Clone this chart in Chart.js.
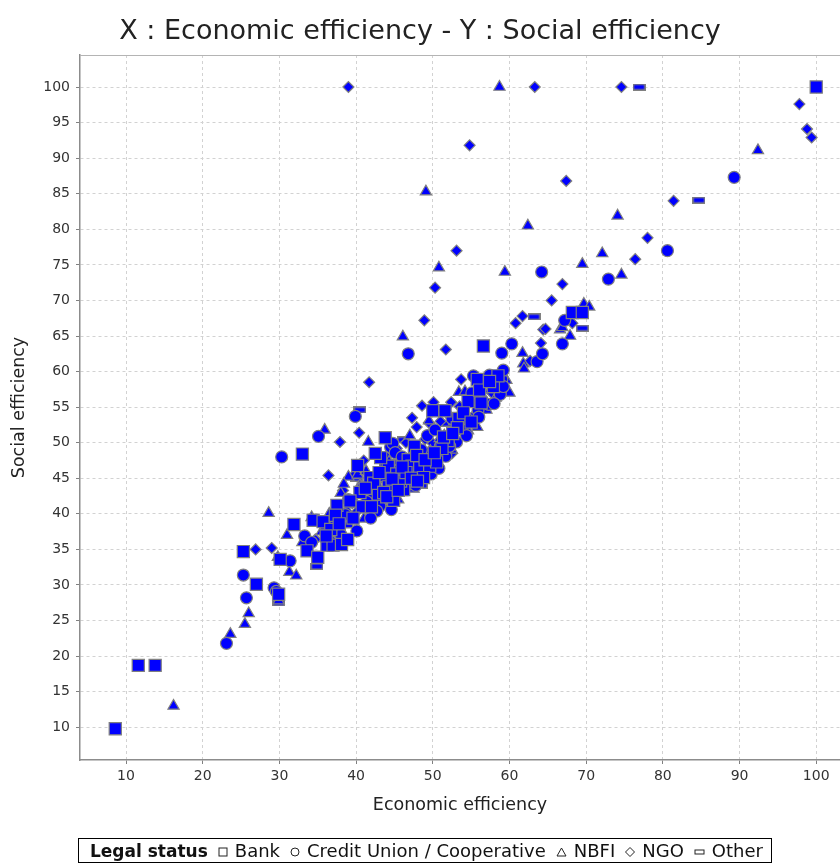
<!DOCTYPE html>
<html>
<head>
<meta charset="utf-8">
<script src="https://cdn.jsdelivr.net/npm/chart.js@4/dist/chart.umd.min.js"></script>
<style>
  html, body { margin: 0; padding: 0; background: #fff; }
  #wrap { position: relative; width: 840px; height: 864px; overflow: hidden; }
  #legend {
    position: absolute; left: 78px; top: 838px; height: 23px; line-height: 23px;
    padding: 0 8px 0 11px; border: 1px solid #000; white-space: nowrap;
    font-family: 'DejaVu Sans', sans-serif; font-size: 18px; color: #111;
  }
  #legend b { font-size: 17px; }
  #legend svg { vertical-align: 0px; margin: 0 7px 0 10px; }
</style>
</head>
<body>
<div id="wrap">
  <canvas id="scatter" width="840" height="864"></canvas>
  <div id="legend"><b>Legal status</b><svg width="10" height="10"><rect x="1" y="1" width="8" height="8" fill="none" stroke="#222"/></svg>Bank<svg width="10" height="10"><circle cx="5" cy="5" r="4" fill="none" stroke="#222"/></svg>Credit Union / Cooperative<svg width="11" height="10"><polygon points="5.5,1 10,9 1,9" fill="none" stroke="#222"/></svg>NBFI<svg width="10" height="10"><polygon points="5,0.5 9.5,5 5,9.5 0.5,5" fill="none" stroke="#222"/></svg>NGO<svg width="11" height="10"><rect x="1" y="3" width="9" height="4" fill="none" stroke="#222"/></svg>Other</div>
</div>
<script>
// x = economic efficiency, y = social efficiency
var bankPts = [
  [8.6, 9.8], [11.6, 18.7], [13.8, 18.7], [25.3, 34.7], [27.0, 30.1], [29.9, 28.7], [30.1, 33.6],
  [31.9, 38.5], [33.0, 48.4], [33.6, 34.8], [35.0, 33.9], [34.4, 39.1], [35.7, 38.9], [36.2, 35.6],
  [36.7, 37.8], [37.0, 35.6], [37.5, 41.2], [37.3, 39.8], [38.1, 35.7], [40.5, 43.0], [41.8, 45.1],
  [42.9, 42.8], [43.8, 50.7], [43.9, 45.4], [44.2, 43.8], [44.2, 46.7], [45.3, 45.6], [46.2, 43.4],
  [46.8, 47.6], [47.3, 46.7], [47.6, 49.5], [48.3, 46.5], [49.6, 46.7], [50.0, 54.5], [51.6, 54.5],
  [52.0, 50.3], [53.4, 53.4], [55.8, 58.9], [56.6, 63.6], [68.2, 68.3], [69.5, 68.3], [100, 100],
  [39.2, 41.8], [40.8, 41.0], [42.3, 44.3], [43.2, 47.9], [44.9, 41.9], [45.8, 44.6], [46.5, 45.8],
  [47.9, 48.2], [48.8, 45.1], [50.5, 47.3], [51.2, 49.2], [53.2, 52.1], [54.6, 55.8], [56.1, 57.4],
  [57.9, 57.9], [58.5, 59.4], [38.9, 36.4], [36.1, 36.9], [44.7, 44.9], [43.6, 43.0],
  [37.8, 38.6], [39.6, 39.4], [41.2, 43.6], [42.0, 41.0], [43.0, 45.8], [44.0, 42.4], [45.5, 43.3],
  [46.0, 46.6], [47.2, 45.0], [48.0, 44.6], [49.0, 47.6], [50.2, 48.6], [51.4, 50.8], [52.6, 51.3],
  [54.0, 54.2], [55.0, 52.9], [56.3, 55.6], [57.4, 58.6], [42.5, 48.5], [40.2, 46.8]
];
var creditUnionPts = [
  [23.1, 21.8], [25.3, 31.4], [25.7, 28.2], [29.3, 29.6], [29.6, 29.1], [30.3, 48.0], [31.4, 33.4],
  [33.3, 36.9], [35.1, 50.9], [39.9, 53.7], [40.1, 37.6], [41.4, 41.7], [43.1, 41.1], [38.6, 39.9],
  [44.5, 49.4], [44.8, 49.9], [46.8, 62.5], [49.3, 51.0], [49.3, 48.5], [50.3, 51.8], [50.5, 47.5],
  [52.5, 53.4], [53.8, 51.9], [55.1, 57.0], [55.3, 59.4], [57.4, 59.5], [58.8, 56.8], [59.0, 58.9],
  [59.2, 57.9], [59.0, 62.6], [59.2, 60.2], [60.3, 63.9], [63.6, 61.4], [64.3, 62.5], [66.9, 63.9],
  [67.2, 67.2], [64.2, 74.0], [72.9, 73.0], [80.6, 77.0], [89.3, 87.3],
  [40.9, 43.7], [42.7, 40.4], [46.9, 44.2], [47.6, 47.3], [49.8, 45.6], [51.7, 48.1], [53.1, 50.1],
  [55.9, 54.6], [57.3, 55.4], [45.1, 48.6], [37.4, 37.6], [34.2, 36.0], [42.5, 44.0], [45.5, 44.8],
  [48.5, 49.0], [46.0, 48.0], [51.0, 49.5], [39.0, 42.0],
  [36.8, 36.0], [38.0, 37.1], [41.9, 39.4], [44.6, 40.6], [47.8, 44.0], [50.8, 46.4], [52.2, 49.5],
  [54.4, 51.0], [56.0, 53.6], [58.0, 55.5]
];
var nbfiPts = [
  [16.2, 13.0], [23.6, 23.1], [25.5, 24.5], [26.0, 26.0], [28.6, 40.1], [29.8, 33.9], [29.9, 27.8],
  [31.0, 37.0], [31.3, 31.8], [32.2, 31.3], [34.2, 39.5], [35.9, 51.8], [38.0, 42.9], [39.6, 45.4],
  [39.0, 45.2], [40.2, 45.5], [41.0, 39.3], [41.6, 50.1], [46.1, 64.9], [48.6, 45.2], [49.1, 85.3],
  [49.5, 53.1], [50.8, 74.6], [53.4, 57.1], [54.2, 57.2], [54.6, 51.7], [54.9, 53.2], [55.5, 55.7],
  [56.2, 54.6], [56.8, 56.0], [58.7, 100], [59.4, 74.0], [60.0, 57.0], [61.7, 62.6], [61.8, 61.1],
  [61.9, 60.4], [62.4, 80.5], [66.6, 65.9], [66.9, 66.2], [67.9, 65.0], [69.5, 75.1], [69.7, 69.5],
  [70.4, 69.1], [72.1, 76.6], [74.1, 81.9], [74.6, 73.6], [92.4, 91.1],
  [37.5, 40.5], [40.5, 44.0], [42.0, 42.5], [44.0, 41.5], [45.5, 42.0], [47.5, 43.5], [48.0, 47.0],
  [50.5, 48.0], [51.5, 51.0], [52.5, 49.0], [57.5, 57.5], [35.5, 37.5], [36.5, 40.0], [33.0, 36.0],
  [39.0, 38.5], [38.4, 44.2], [41.3, 46.0], [43.1, 44.8], [46.0, 43.0], [49.2, 46.8], [50.9, 50.6],
  [52.8, 53.0], [54.2, 52.6], [58.2, 56.3], [59.6, 58.8], [44.3, 47.3], [47.0, 51.0],
  [36.0, 38.3], [38.8, 40.6], [40.0, 41.4], [43.3, 41.8], [46.6, 44.3], [49.7, 48.8], [53.0, 50.5],
  [55.8, 52.2], [57.0, 54.6]
];
var ngoPts = [
  [26.9, 35.0], [29.0, 35.2], [34.7, 36.4], [36.4, 45.4], [37.9, 50.1], [39.0, 100], [40.4, 51.4],
  [41.7, 58.5], [47.9, 52.2], [48.6, 55.2], [48.9, 67.2], [50.1, 55.7], [50.3, 71.8], [51.7, 63.1],
  [52.4, 55.7], [52.5, 48.5], [53.1, 77.0], [53.7, 58.9], [54.2, 53.9], [54.8, 91.8], [57.7, 57.0],
  [60.8, 66.8], [61.7, 67.8], [62.7, 61.5], [63.3, 100], [64.1, 64.0], [64.4, 65.9], [64.7, 66.0],
  [65.5, 70.0], [66.9, 72.3], [67.4, 86.8], [68.2, 66.8], [74.6, 100], [76.4, 75.8], [78.0, 78.8],
  [81.4, 84.0], [97.8, 97.6], [98.8, 94.1], [99.4, 92.9],
  [42.0, 44.0], [44.0, 48.0], [45.5, 46.5], [46.5, 50.0], [43.5, 42.0], [49.0, 50.5], [51.0, 53.0],
  [55.5, 54.0], [39.5, 41.5], [37.0, 38.5], [40.0, 40.2], [42.6, 45.6], [45.3, 49.2], [48.2, 46.0],
  [50.0, 49.9], [53.5, 55.1], [56.7, 58.3], [47.3, 53.5],
  [38.3, 43.3], [41.0, 47.5], [44.6, 46.0], [46.1, 47.8], [49.5, 52.8], [52.0, 54.0]
];
var otherPts = [
  [29.9, 27.5], [34.9, 32.6], [40.5, 54.6], [46.2, 50.4], [63.2, 67.7], [69.5, 66.1], [76.9, 100],
  [84.7, 84.1], [40.0, 45.0], [45.0, 47.2], [48.5, 44.0], [43.9, 47.0], [51.9, 52.7], [55.2, 56.4]
];
var xTicks = [10, 20, 30, 40, 50, 60, 70, 80, 90, 100];
var yTicks = [10, 15, 20, 25, 30, 35, 40, 45, 50, 55, 60, 65, 70, 75, 80, 85, 90, 95, 100];

var FILL = '#0000ff';
var EDGE = '#808080';
var FONT = "'DejaVu Sans', sans-serif";

function toXY(arr) {
  return arr.map(function(p) { return { x: p[0], y: p[1] }; });
}

// flat bar marker for "Other"
function flatMarker() {
  var c = document.createElement('canvas');
  c.width = 13; c.height = 7;
  var g = c.getContext('2d');
  g.fillStyle = EDGE; g.fillRect(0, 0, 13, 7);
  g.fillStyle = FILL; g.fillRect(1.5, 1.5, 10, 4);
  return c;
}

function series(label, pts, style, radius) {
  return {
    label: label, data: toXY(pts), pointStyle: style, pointRadius: radius,
    pointHoverRadius: radius, backgroundColor: FILL, borderColor: EDGE, borderWidth: 1.2
  };
}

var plotFrame = {
  id: 'plotFrame',
  afterDatasetsDraw: function(chart) {
    var a = chart.chartArea, ctx = chart.ctx;
    ctx.save();
    ctx.strokeStyle = '#b4b4b4';
    ctx.lineWidth = 1;
    ctx.beginPath();
    ctx.moveTo(a.left, a.top + 0.5);
    ctx.lineTo(a.right, a.top + 0.5);
    ctx.stroke();
    ctx.restore();
  }
};

var tickFont = { family: FONT, size: 14 };

new Chart(document.getElementById('scatter'), {
  type: 'scatter',
  data: {
    datasets: [
      series('Bank', bankPts, 'rect', 8.6),
      series('Credit Union / Cooperative', creditUnionPts, 'circle', 6),
      series('NBFI', nbfiPts, 'triangle', 6.5),
      series('NGO', ngoPts, 'rectRot', 5.5),
      series('Other', otherPts, flatMarker(), 6)
    ]
  },
  options: {
    responsive: false,
    animation: false,
    layout: { autoPadding: false, padding: { top: 0, left: 0, right: 0, bottom: 45 } },
    plugins: {
      legend: { display: false },
      tooltip: { enabled: false },
      title: {
        display: true,
        text: 'X : Economic efficiency - Y : Social efficiency',
        color: '#222',
        font: { family: FONT, size: 27, weight: 'normal', lineHeight: 1 },
        padding: { top: 18, bottom: 10 }
      }
    },
    scales: {
      x: {
        type: 'linear', min: 4, max: 103.1,
        afterBuildTicks: function(s) { s.ticks = xTicks.map(function(v) { return { value: v }; }); },
        afterFit: function(s) { s.height = 59; },
        grid: { color: '#d2d2d2', lineWidth: 1, tickLength: 4, tickColor: '#808080' },
        border: { display: true, color: '#8c8c8c', width: 1.5, dash: [3, 3] },
        ticks: { color: '#333', font: tickFont, padding: 4, autoSkip: false, maxRotation: 0 },
        title: {
          display: true, text: 'Economic efficiency', color: '#222',
          font: { family: FONT, size: 17.5 }, padding: { top: 0, bottom: 3 }
        }
      },
      y: {
        type: 'linear', min: 5.4, max: 104.5,
        afterBuildTicks: function(s) { s.ticks = yTicks.map(function(v) { return { value: v }; }); },
        afterFit: function(s) { s.width = 80; },
        grid: { color: '#d2d2d2', lineWidth: 1, tickLength: 4, tickColor: '#808080' },
        border: { display: true, color: '#8c8c8c', width: 1.5, dash: [3, 3] },
        ticks: { color: '#333', font: tickFont, padding: 6, autoSkip: false },
        title: {
          display: true, text: 'Social efficiency', color: '#222',
          font: { family: FONT, size: 17.5 }, padding: { top: 9, bottom: 0 }
        }
      }
    }
  },
  plugins: [plotFrame]
});
</script>
</body>
</html>
